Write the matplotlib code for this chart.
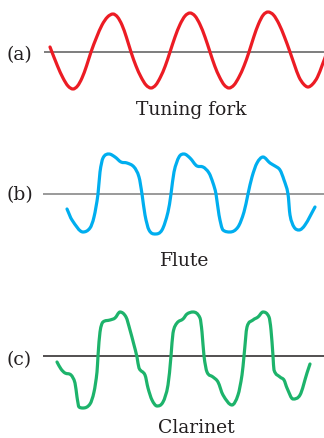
import numpy as np
import matplotlib
matplotlib.use("Agg")
from matplotlib import pyplot as plt
from matplotlib.path import Path
import matplotlib.patches as patches

# waveforms: time along the trace, displacement above the baseline
fork_t = [50, 57.5, 63, 68, 73, 77.5, 82, 86.5, 91, 96.5, 102, 107.5, 113,
          117.5, 122, 126.5, 131, 136, 141, 146, 151, 155.75, 160.5, 165.25, 170,
          175, 180, 185, 190, 195, 200, 205, 210, 214.75, 219.5, 224.25, 229,
          234, 239, 244, 249, 253.75, 258.5, 263.25, 268, 273.5, 279, 284.5, 290,
          294.5, 299, 303.5, 308, 312.75, 317.5, 322.25, 327, 331.75, 336.5]
fork_y = [5, -14, -26, -34, -37, -34, -26, -14, 0, 14.5, 27, 35, 38,
          35, 27, 14.5, 0, -14, -25, -33, -36, -33, -25, -14, 0,
          15, 27.5, 36, 39, 36, 27.5, 15, 0, -14, -25, -33, -36,
          -33, -25, -14, 0, 15, 28, 37, 40, 37, 28, 15, 0,
          -13, -25, -32, -35, -32, -25, -13, 0, 15, 27]

flute_t = [67, 72, 83, 90, 94, 98, 100, 103, 109, 115, 121, 127, 134, 139, 142,
           145, 149, 155, 162, 168, 171, 174, 179, 184, 190, 197, 203, 209, 213, 216,
           219, 223, 230, 238, 244, 248, 252, 257, 263, 270, 275, 280, 284, 288,
           290, 294, 299, 305, 315]
flute_y = [-15, -26, -38, -34, -23, 0, 22, 36, 40, 37, 32, 31, 27, 17, 0,
           -21, -36, -40, -36, -18, 0, 22, 37, 40, 36, 28, 27, 21, 11, 0,
           -21, -36, -38, -33, -18, 0, 17, 31, 37, 31, 28, 24, 14, 0,
           -21, -33, -36, -31, -13]

clar_t = [57, 61, 65, 71, 75, 77, 79, 83, 90, 94, 97, 98, 100, 103, 110, 115, 120,
          126, 130, 134, 137, 139, 145, 148, 152, 157, 163, 168, 171, 173, 177, 183,
          187, 193, 200, 202, 204, 207, 213, 218, 223, 232, 238, 242, 244, 247, 253,
          258, 263, 269, 271, 273, 274, 280, 284, 287, 293, 300, 307, 310]
clar_y = [-6, -13, -17, -19, -27, -41, -51, -52, -48, -36, -16, 0, 24, 34, 36, 38, 44,
          39, 26, 11, -1, -12, -19, -32, -44, -50, -46, -29, 0, 23, 33, 37,
          42, 44, 38, 24, 0, -16, -21, -26, -39, -49, -39, -19, 0, 29, 36,
          39, 44, 39, 26, 0, -14, -21, -24, -32, -43, -39, -17, -8]

panel_labels = ['(a)', '(b)', '(c)']
captions = ['Tuning fork', 'Flute', 'Clarinet']
wave_colors = ['#EC1C24', '#00AEEF', '#1DB36B']
base_colors = ['#5a5a5a', '#7f7f7f', '#231F20']


def smooth_path(t, y):
  """monotone cubic through the traced points, handed to matplotlib as bezier segments"""
  t = np.asarray(t, float); y = np.asarray(y, float)
  h = np.diff(t); d = np.diff(y)/h
  m = np.zeros_like(y)
  m[0] = d[0]; m[-1] = d[-1]
  for k in range(1, len(y) - 1):
    if d[k-1]*d[k] > 0:
      c = (y[k+1] - y[k-1])/(t[k+1] - t[k-1])
      lim = 3*min(abs(d[k-1]), abs(d[k]))
      m[k] = np.sign(c)*min(abs(c), lim)
  verts = [(t[0], y[0])]
  codes = [Path.MOVETO]
  for k in range(len(t) - 1):
    verts += [(t[k] + h[k]/3, y[k] + m[k]*h[k]/3),
              (t[k+1] - h[k]/3, y[k+1] - m[k+1]*h[k]/3),
              (t[k+1], y[k+1])]
    codes += [Path.CURVE4]*3
  return Path(verts, codes)


fig = plt.figure(figsize=(3.24, 4.38), dpi=100)
H = 438.

# panel layout in pixels: top, bottom, baseline row, baseline start, label/caption spots
tops = [0, 130, 280]
bottoms = [130, 280, 438]
rows = [52, 194, 356]
starts = [44, 43, 43]
label_dy = [-8, -6, -9]
cap_x = [191, 184.5, 196]
cap_y = [115, 266, 433]

waves = [(fork_t, fork_y), (flute_t, flute_y), (clar_t, clar_y)]

for k in range(3):
  ax = fig.add_axes([0, (H - bottoms[k])/H, 1, (bottoms[k] - tops[k])/H])
  ax.set_xlim(0, 324)
  ax.set_ylim(rows[k] - bottoms[k], rows[k] - tops[k])
  ax.axis('off')
  ax.hlines(0, starts[k], 324, color=base_colors[k], lw=1.1, zorder=1)
  t, y = waves[k]
  patch = patches.PathPatch(smooth_path(t, y), facecolor='none', edgecolor=wave_colors[k],
                            lw=2.3, capstyle='round', joinstyle='round', zorder=2)
  ax.add_patch(patch)
  ax.text(7, label_dy[k], panel_labels[k], family='DejaVu Serif', fontsize=13.5,
          color='#231F20', ha='left', va='baseline')
  ax.text(cap_x[k], rows[k] - cap_y[k], captions[k], family='DejaVu Serif', fontsize=13.5,
          color='#231F20', ha='center', va='baseline')

fig.savefig('out.png', dpi=100)
